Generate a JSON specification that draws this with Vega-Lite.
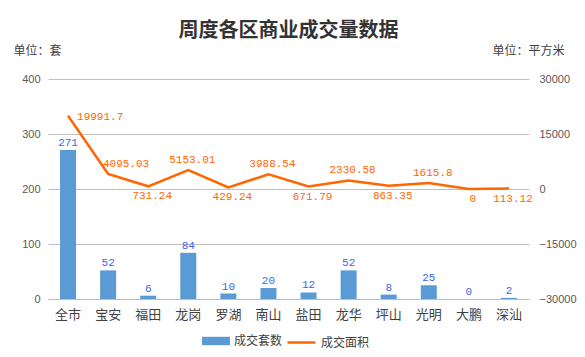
{
  "$schema": "https://vega.github.io/schema/vega-lite/v6.json",
  "width": 481,
  "height": 220,
  "autosize": {"type": "none"},
  "padding": {"left": 48, "top": 79, "right": 56, "bottom": 58},
  "background": "white",
  "title": {
    "text": "周度各区商业成交量数据",
    "font": "Noto Sans CJK SC",
    "fontSize": 20,
    "fontWeight": "bold",
    "color": "#333333",
    "anchor": "middle",
    "frame": "group",
    "offset": 3
  },
  "config": {
    "view": {"stroke": null},
    "legend": {
      "labelFont": "Noto Sans CJK SC",
      "labelFontSize": 12,
      "labelColor": "#404040",
      "title": null
    }
  },
  "data": {
    "values": [
      {"district": "全市", "count": 271, "area": 19991.7},
      {"district": "宝安", "count": 52, "area": 4095.03},
      {"district": "福田", "count": 6, "area": 731.24},
      {"district": "龙岗", "count": 84, "area": 5153.01},
      {"district": "罗湖", "count": 10, "area": 429.24},
      {"district": "南山", "count": 20, "area": 3988.54},
      {"district": "盐田", "count": 12, "area": 671.79},
      {"district": "龙华", "count": 52, "area": 2330.58},
      {"district": "坪山", "count": 8, "area": 863.35},
      {"district": "光明", "count": 25, "area": 1615.8},
      {"district": "大鹏", "count": 0, "area": 0},
      {"district": "深汕", "count": 2, "area": 113.12}
    ]
  },
  "encoding": {
    "x": {
      "field": "district",
      "type": "nominal",
      "sort": null,
      "scale": {"paddingInner": 0, "paddingOuter": 0},
      "axis": {
        "title": null,
        "labelAngle": 0,
        "labelFont": "Noto Sans CJK SC",
        "labelFontSize": 13,
        "labelColor": "#404040",
        "labelPadding": 9,
        "ticks": false,
        "domain": true,
        "domainColor": "#bfbfbf",
        "grid": false
      }
    }
  },
  "layer": [
    {
      "encoding": {
        "y": {
          "field": "count",
          "type": "quantitative",
          "scale": {"domain": [0, 400]},
          "axis": {
            "values": [0, 100, 200, 300, 400],
            "title": "单位：套",
            "titleAngle": 0,
            "titleAlign": "left",
            "titleBaseline": "middle",
            "titleX": -35,
            "titleY": -29,
            "titleFont": "Noto Sans CJK SC",
            "titleFontSize": 12,
            "titleFontWeight": "normal",
            "titleColor": "#404040",
            "labelFont": "Liberation Sans",
            "labelFontSize": 11,
            "labelColor": "#595959",
            "labelPadding": 8,
            "ticks": false,
            "domain": false,
            "grid": true,
            "gridColor": "#bfbfbf",
            "gridWidth": 1
          }
        }
      },
      "layer": [
        {
          "mark": {"type": "bar", "width": 16},
          "encoding": {
            "fill": {
              "datum": "成交套数",
              "type": "nominal",
              "scale": {"range": ["#5b9bd5"]},
              "legend": {
                "orient": "none",
                "legendX": 154,
                "legendY": 248,
                "symbolType": "M-1,-0.3H1V0.3H-1Z",
                "symbolSize": 784,
                "symbolStrokeWidth": 0,
                "labelOffset": 4
              }
            }
          }
        },
        {
          "mark": {
            "type": "text",
            "baseline": "bottom",
            "dy": -2,
            "font": "Liberation Mono",
            "fontSize": 11,
            "color": "#3a66e8"
          },
          "encoding": {"text": {"field": "count", "type": "quantitative"}}
        }
      ]
    },
    {
      "encoding": {
        "y": {
          "field": "area",
          "type": "quantitative",
          "scale": {"domain": [-30000, 30000]},
          "axis": {
            "orient": "right",
            "values": [-30000, -15000, 0, 15000, 30000],
            "format": "d",
            "title": "单位：平方米",
            "titleAngle": 0,
            "titleAlign": "right",
            "titleBaseline": "middle",
            "titleX": 35,
            "titleY": -29,
            "titleFont": "Noto Sans CJK SC",
            "titleFontSize": 12,
            "titleFontWeight": "normal",
            "titleColor": "#404040",
            "labelFont": "Liberation Sans",
            "labelFontSize": 11,
            "labelColor": "#595959",
            "labelPadding": 10,
            "ticks": false,
            "domain": false,
            "grid": false
          }
        }
      },
      "layer": [
        {
          "mark": {"type": "line", "strokeWidth": 2.5},
          "encoding": {
            "stroke": {
              "datum": "成交面积",
              "type": "nominal",
              "scale": {"range": ["#ff6600"]},
              "legend": {
                "orient": "none",
                "legendX": 238,
                "legendY": 248,
                "symbolType": "stroke",
                "symbolSize": 784,
                "symbolStrokeWidth": 2.5,
                "labelOffset": 4
              }
            }
          }
        },
        {
          "transform": [{"filter": {"field": "district", "oneOf": ["全市"]}}],
          "mark": {
            "type": "text",
            "align": "left",
            "baseline": "middle",
            "dx": 9,
            "dy": 1,
            "font": "Liberation Mono",
            "fontSize": 11,
            "color": "#ff6600"
          },
          "encoding": {"text": {"field": "area", "type": "nominal"}}
        },
        {
          "transform": [{"filter": {"field": "district", "oneOf": ["宝安"]}}],
          "mark": {
            "type": "text",
            "align": "center",
            "baseline": "middle",
            "dy": -10,
            "dx": 18,
            "font": "Liberation Mono",
            "fontSize": 11,
            "color": "#ff6600"
          },
          "encoding": {"text": {"field": "area", "type": "nominal"}}
        },
        {
          "transform": [{"filter": {"field": "district", "oneOf": ["龙岗", "南山", "龙华", "光明"]}}],
          "mark": {
            "type": "text",
            "align": "center",
            "baseline": "middle",
            "dy": -10,
            "dx": 4,
            "font": "Liberation Mono",
            "fontSize": 11,
            "color": "#ff6600"
          },
          "encoding": {"text": {"field": "area", "type": "nominal"}}
        },
        {
          "transform": [{"filter": {"field": "district", "oneOf": ["福田", "罗湖", "盐田", "坪山", "大鹏", "深汕"]}}],
          "mark": {
            "type": "text",
            "align": "center",
            "baseline": "middle",
            "dy": 10,
            "dx": 4,
            "font": "Liberation Mono",
            "fontSize": 11,
            "color": "#ff6600"
          },
          "encoding": {"text": {"field": "area", "type": "nominal"}}
        }
      ]
    }
  ],
  "resolve": {"scale": {"y": "independent"}}
}
